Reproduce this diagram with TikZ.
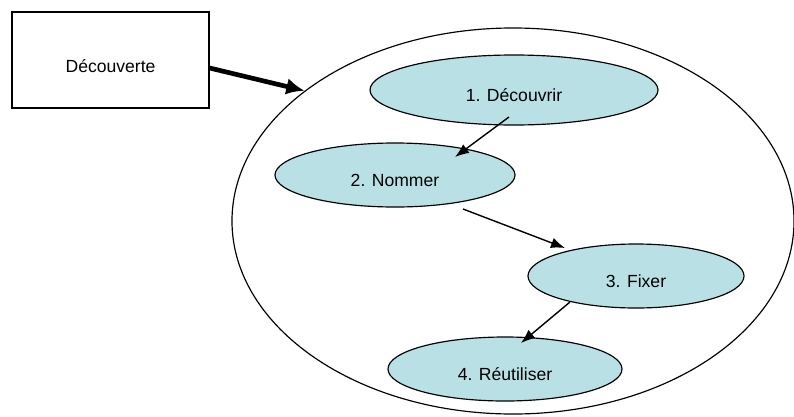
\documentclass[tikz,border=0pt]{standalone}
\usepackage{fontspec}
\setmainfont{Liberation Sans}
\usetikzlibrary{positioning,arrows.meta,shapes.geometric}
\definecolor{stepfill}{RGB}{185,224,228}
\tikzset{
  flowarrow/.style={-{Latex[length=4.2mm,width=3.2mm]}, line width=1.2pt},
  bigarrow/.style={-{Latex[length=5.5mm,width=5mm]}, line width=4pt},
  stepell/.style={draw, ellipse, line width=1pt, fill=stepfill, inner sep=0pt, minimum height=1.92cm, text height=19pt, text depth=0pt},
  framebox/.style={draw, line width=1pt, inner sep=0pt, text height=22pt, text depth=0pt}
}

\begin{document}
\begin{tikzpicture}[x=0.03cm, y=-0.03cm, every node/.style={font=\fontsize{15}{18}\selectfont}]
  \useasboundingbox (0,0) rectangle (794,416);
  \node[draw, ellipse, line width=1pt, minimum width=16.86cm, minimum height=11.58cm] (cycle) at (513,221) {};
  \node[framebox, minimum width=5.91cm, minimum height=2.88cm] (disc) at (110.5,60) {Découverte};
  \node[stepell, minimum width=8.64cm, minimum height=2.1cm] (discover) at (514,90) {1. Découvrir};
  \node[stepell, minimum width=7.2cm] (name) at (395,175) {2. Nommer};
  \node[stepell, minimum width=6.48cm] (fix) at (636,276) {3. Fixer};
  \node[stepell, minimum width=7.02cm] (reuse) at (505,369) {4. Réutiliser};
  \draw[bigarrow] ([shift={(0,8)}]disc.east) -- (cycle.148);
  \draw[flowarrow] ([shift={(-5,27)}]discover.center) -- ([shift={(60,-18)}]name.center);
  \draw[flowarrow] ([shift={(68,34)}]name.center) -- ([shift={(-71,-28)}]fix.center);
  \draw[flowarrow] ([shift={(-66,26)}]fix.center) -- ([shift={(16,-26)}]reuse.center);
\end{tikzpicture}
\end{document}
